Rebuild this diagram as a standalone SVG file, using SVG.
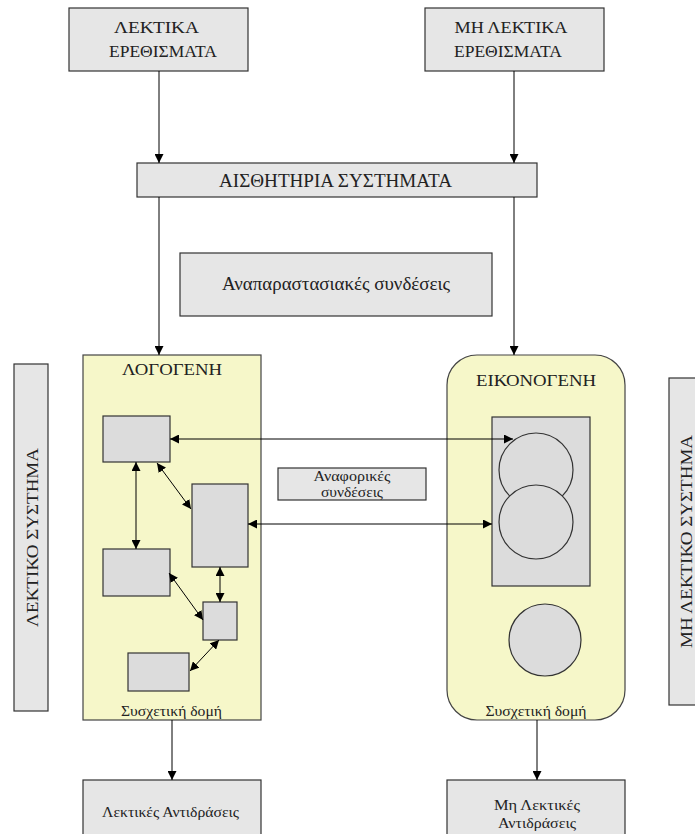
<svg xmlns="http://www.w3.org/2000/svg" width="695" height="834" viewBox="0 0 695 834" font-family="'Liberation Serif', 'DejaVu Serif', serif">
  <defs>
    <marker id="ah" viewBox="0 0 10 10" refX="10" refY="5" markerWidth="9" markerHeight="9" markerUnits="userSpaceOnUse" orient="auto-start-reverse">
      <path d="M0,0 L10,5 L0,10 z" fill="#000"/>
    </marker>
    <style>
      text { font-family: 'Liberation Serif', 'DejaVu Serif', serif; fill: #222; text-anchor: middle; }
      .box { fill: #e6e6e6; stroke: #333; stroke-width: 1.2; }
      .inner { fill: #dcdcdc; stroke: #333; stroke-width: 1.2; }
      .area { fill: #f6f7c9; stroke: #444; stroke-width: 1.2; }
      .t19 { font-size: 19px; }
      .t18 { font-size: 18px; }
      .t17 { font-size: 17.5px; }
      .t16 { font-size: 16px; }
      .t14 { font-size: 14.5px; }
      .link { stroke: #000; stroke-width: 1; fill: none; }
      .one { marker-end: url(#ah); }
      .two { marker-start: url(#ah); marker-end: url(#ah); }
    </style>
  </defs>
  <rect width="695" height="834" fill="#fff"/>

  <!-- stimuli -->
  <g id="verbal-stimuli">
    <rect class="box" x="69" y="8" width="179" height="63"/>
    <text class="t17" x="156.5" y="33" textLength="85" lengthAdjust="spacingAndGlyphs">ΛΕΚΤΙΚΑ</text>
    <text class="t17" x="163" y="57" textLength="108" lengthAdjust="spacingAndGlyphs">ΕΡΕΘΙΣΜΑΤΑ</text>
  </g>
  <g id="nonverbal-stimuli">
    <rect class="box" x="425" y="8" width="179" height="63"/>
    <text class="t17" x="511" y="33" textLength="113" lengthAdjust="spacingAndGlyphs">ΜΗ ΛΕΚΤΙΚΑ</text>
    <text class="t17" x="508" y="57" textLength="108" lengthAdjust="spacingAndGlyphs">ΕΡΕΘΙΣΜΑΤΑ</text>
  </g>

  <g id="sensory-systems">
    <rect class="box" x="137" y="163" width="400" height="34"/>
    <text class="t19" x="335.5" y="187" textLength="233" lengthAdjust="spacingAndGlyphs">ΑΙΣΘΗΤΗΡΙΑ ΣΥΣΤΗΜΑΤΑ</text>
  </g>

  <g id="representational-links">
    <rect class="box" x="180" y="253" width="312" height="63"/>
    <text class="t18" x="336" y="290" textLength="228" lengthAdjust="spacingAndGlyphs">Αναπαραστασιακές συνδέσεις</text>
  </g>

  <!-- side labels -->
  <g id="verbal-system">
    <rect class="box" x="14" y="364" width="34" height="347"/>
    <text class="t17" transform="translate(37.5,537.5) rotate(-90)" textLength="179" lengthAdjust="spacingAndGlyphs">ΛΕΚΤΙΚΟ ΣΥΣΤΗΜΑ</text>
  </g>
  <g id="nonverbal-system">
    <rect class="box" x="669" y="378" width="34" height="327"/>
    <text class="t17" transform="translate(691.5,541.5) rotate(-90)" textLength="213" lengthAdjust="spacingAndGlyphs">ΜΗ ΛΕΚΤΙΚΟ ΣΥΣΤΗΜΑ</text>
  </g>

  <!-- logogens -->
  <g id="logogens">
    <rect class="area" x="83" y="355" width="178" height="365"/>
    <text class="t16" x="172" y="375" textLength="100" lengthAdjust="spacingAndGlyphs">ΛΟΓΟΓΕΝΗ</text>
    <rect class="inner" x="103" y="416" width="67" height="46"/>
    <rect class="inner" x="192" y="484" width="56" height="83"/>
    <rect class="inner" x="103" y="549" width="67" height="47"/>
    <rect class="inner" x="203" y="602" width="34" height="38"/>
    <rect class="inner" x="128" y="653" width="61" height="38"/>
    <text class="t14" x="171.5" y="716" textLength="101" lengthAdjust="spacingAndGlyphs">Συσχετική δομή</text>
  </g>

  <!-- imagens -->
  <g id="imagens">
    <rect class="area" x="447" y="355" width="178" height="365" rx="30" ry="30"/>
    <text class="t17" x="536" y="386" textLength="120" lengthAdjust="spacingAndGlyphs">ΕΙΚΟΝΟΓΕΝΗ</text>
    <rect class="inner" x="492" y="417" width="98" height="169"/>
    <circle class="inner" cx="536" cy="470" r="37"/>
    <circle class="inner" cx="536" cy="522" r="37"/>
    <circle class="inner" cx="545" cy="640" r="36"/>
    <text class="t14" x="536" y="716" textLength="101" lengthAdjust="spacingAndGlyphs">Συσχετική δομή</text>
  </g>

  <g id="referential-links">
    <rect class="box" x="278" y="468" width="148" height="32"/>
    <text class="t14" x="352" y="481" textLength="77" lengthAdjust="spacingAndGlyphs">Αναφορικές</text>
    <text class="t14" x="352" y="497" textLength="62" lengthAdjust="spacingAndGlyphs">συνδέσεις</text>
  </g>

  <!-- responses -->
  <g id="verbal-responses">
    <rect class="box" x="83" y="780" width="178" height="60"/>
    <text class="t14" x="170.5" y="817" textLength="137" lengthAdjust="spacingAndGlyphs">Λεκτικές Αντιδράσεις</text>
  </g>
  <g id="nonverbal-responses">
    <rect class="box" x="447" y="780" width="178" height="60"/>
    <text class="t14" x="537" y="810" textLength="86" lengthAdjust="spacingAndGlyphs">Μη Λεκτικές</text>
    <text class="t14" x="537" y="828" textLength="78" lengthAdjust="spacingAndGlyphs">Αντιδράσεις</text>
  </g>

  <!-- connectors -->
  <g id="connectors">
    <line class="link one" x1="159" y1="71" x2="159" y2="163"/>
    <line class="link one" x1="514" y1="71" x2="514" y2="163"/>
    <line class="link one" x1="159" y1="197" x2="159" y2="355"/>
    <line class="link one" x1="514" y1="197" x2="514" y2="355"/>
    <line class="link one" x1="172" y1="720" x2="172" y2="780"/>
    <line class="link one" x1="537" y1="720" x2="537" y2="780"/>

    <line class="link two" x1="170" y1="439" x2="513" y2="439"/>
    <line class="link two" x1="248" y1="524" x2="492" y2="524"/>

    <line class="link two" x1="136" y1="462" x2="136" y2="549"/>
    <line class="link two" x1="157" y1="463" x2="191" y2="509"/>
    <line class="link two" x1="220" y1="567" x2="220" y2="602"/>
    <line class="link two" x1="169" y1="573" x2="203" y2="620"/>
    <line class="link two" x1="219" y1="640" x2="190" y2="671"/>
  </g>
</svg>
